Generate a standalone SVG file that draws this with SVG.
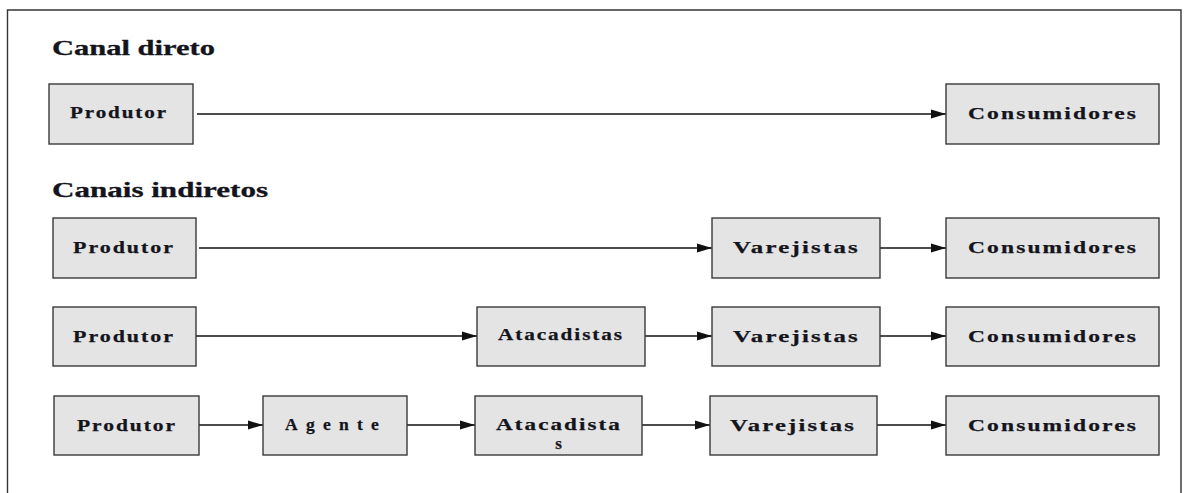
<svg xmlns="http://www.w3.org/2000/svg" width="1184" height="493" viewBox="0 0 1184 493">
<defs>
<style>
.bx{fill:#e4e4e4;stroke:#3a3a3a;stroke-width:1.4}
.t{font-family:"Liberation Serif","Times New Roman",serif;font-weight:bold;font-size:16.5px;letter-spacing:1.5px;fill:#14141c;stroke:#14141c;stroke-width:0.25}
.h{font-family:"Liberation Serif","Times New Roman",serif;font-weight:bold;font-size:21px;fill:#14141c;stroke:#14141c;stroke-width:0.3}
.c{stroke:#111;stroke-width:1.5;fill:none;marker-end:url(#ah)}
</style>
<marker id="ah" markerUnits="userSpaceOnUse" markerWidth="16" markerHeight="10" refX="15" refY="5" orient="auto">
<path d="M0,0.5 L15,5 L0,9.5 z" fill="#111"/>
</marker>
</defs>
<rect width="1184" height="493" fill="#fff"/>
<path d="M7.5,500 V10 H1181 V500" fill="none" stroke="#333" stroke-width="1.4"/>
<text class="h" x="52" y="55" textLength="163" lengthAdjust="spacingAndGlyphs">Canal direto</text>
<text class="h" x="52" y="197" textLength="216" lengthAdjust="spacingAndGlyphs">Canais indiretos</text>
<g id="connectors">
<line class="c" x1="197" y1="114" x2="946" y2="114"/>
<line class="c" x1="199" y1="248" x2="712" y2="248"/>
<line class="c" x1="880" y1="248" x2="946" y2="248"/>
<line class="c" x1="196" y1="336" x2="477" y2="336"/>
<line class="c" x1="645" y1="336" x2="712" y2="336"/>
<line class="c" x1="880" y1="336" x2="946" y2="336"/>
<line class="c" x1="199" y1="425" x2="263" y2="425"/>
<line class="c" x1="407" y1="425" x2="475" y2="425"/>
<line class="c" x1="642" y1="425" x2="710" y2="425"/>
<line class="c" x1="877" y1="425" x2="946" y2="425"/>
</g>
<g id="r1-produtor"><rect class="bx" x="49" y="84" width="144" height="60"/><text class="t" x="70" y="118" textLength="98" lengthAdjust="spacingAndGlyphs">Produtor</text></g>
<g id="r1-consumidores"><rect class="bx" x="946" y="84" width="213" height="60"/><text class="t" x="968" y="119" textLength="170" lengthAdjust="spacingAndGlyphs">Consumidores</text></g>
<g id="r2-produtor"><rect class="bx" x="53" y="218" width="143" height="60"/><text class="t" x="73" y="253" textLength="102" lengthAdjust="spacingAndGlyphs">Produtor</text></g>
<g id="r2-varejistas"><rect class="bx" x="712" y="218" width="168" height="60"/><text class="t" x="733" y="253" textLength="127" lengthAdjust="spacingAndGlyphs">Varejistas</text></g>
<g id="r2-consumidores"><rect class="bx" x="946" y="218" width="213" height="60"/><text class="t" x="968" y="253" textLength="170" lengthAdjust="spacingAndGlyphs">Consumidores</text></g>
<g id="r3-produtor"><rect class="bx" x="53" y="307" width="143" height="59"/><text class="t" x="73" y="342" textLength="102" lengthAdjust="spacingAndGlyphs">Produtor</text></g>
<g id="r3-atacadistas"><rect class="bx" x="477" y="307" width="168" height="59"/><text class="t" x="498" y="340" textLength="126" lengthAdjust="spacingAndGlyphs">Atacadistas</text></g>
<g id="r3-varejistas"><rect class="bx" x="712" y="307" width="168" height="59"/><text class="t" x="733" y="342" textLength="127" lengthAdjust="spacingAndGlyphs">Varejistas</text></g>
<g id="r3-consumidores"><rect class="bx" x="946" y="307" width="213" height="59"/><text class="t" x="968" y="342" textLength="170" lengthAdjust="spacingAndGlyphs">Consumidores</text></g>
<g id="r4-produtor"><rect class="bx" x="54" y="396" width="145" height="59"/><text class="t" x="77" y="431" textLength="100" lengthAdjust="spacingAndGlyphs">Produtor</text></g>
<g id="r4-agente"><rect class="bx" x="263" y="396" width="144" height="59"/><text class="t" x="285" y="430" style="font-size:17px;letter-spacing:8px" textLength="102" lengthAdjust="spacingAndGlyphs">Agente</text></g>
<g id="r4-atacadistas"><rect class="bx" x="475" y="396" width="167" height="59"/><text class="t" x="496" y="430" textLength="126" lengthAdjust="spacingAndGlyphs">Atacadista</text><text class="t" x="558.5" y="449" style="font-size:17px;letter-spacing:0" text-anchor="middle">s</text></g>
<g id="r4-varejistas"><rect class="bx" x="710" y="396" width="167" height="59"/><text class="t" x="730" y="431" textLength="126" lengthAdjust="spacingAndGlyphs">Varejistas</text></g>
<g id="r4-consumidores"><rect class="bx" x="946" y="396" width="213" height="59"/><text class="t" x="968" y="431" textLength="170" lengthAdjust="spacingAndGlyphs">Consumidores</text></g>
</svg>
